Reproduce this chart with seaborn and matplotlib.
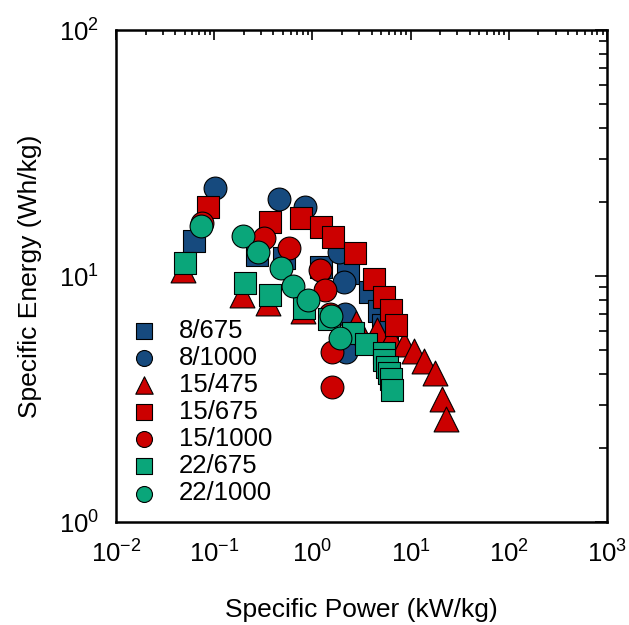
import matplotlib
matplotlib.use("Agg")
import matplotlib.pyplot as plt
import seaborn as sns
import pandas as pd
from matplotlib.ticker import LogLocator, NullFormatter

sns.set_theme(style="white")
plt.rcParams['font.family'] = ['Liberation Sans', 'DejaVu Sans']
plt.rcParams['mathtext.default'] = 'regular'
plt.rcParams['axes.unicode_minus'] = False
for k in ['text.color', 'axes.labelcolor', 'xtick.color', 'ytick.color', 'axes.edgecolor']:
    plt.rcParams[k] = 'black'

# ---- data (Specific Power kW/kg, Specific Energy Wh/kg) ----
p_8_675 = [0.062, 0.273, 0.514, 1.22, 2.30, 3.86, 4.77, 5.23, 5.75]
e_8_675 = [13.9, 12.2, 11.8, 10.9, 10.3, 8.6, 7.2, 6.3, 5.27]

p_8_1000 = [0.102, 0.457, 0.841, 1.87, 2.10, 2.15, 2.20]
e_8_1000 = [22.8, 20.5, 19.1, 12.5, 9.46, 7.0, 4.9]

p_15_475 = [0.048, 0.19, 0.353, 0.80, 2.78, 4.55, 6.31, 8.57, 10.8, 13.7, 17.7, 20.9, 22.9]
e_15_475 = [10.6, 8.4, 7.76, 7.2, 6.44, 6.03, 5.62, 5.27, 4.95, 4.51, 4.03, 3.16, 2.62]

p_15_675 = [0.086, 0.37, 0.766, 1.22, 1.62, 2.71, 4.24, 5.36, 6.31, 7.10]
e_15_675 = [19.1, 16.6, 17.2, 15.8, 14.4, 12.4, 9.72, 8.19, 7.28, 6.32]

p_15_1000 = [0.075, 0.321, 0.578, 1.19, 1.34, 1.51, 1.58, 1.58]
e_15_1000 = [16.4, 14.3, 13.0, 10.6, 8.77, 6.99, 4.91, 3.54]

p_22_675 = [0.050, 0.206, 0.37, 0.82, 1.48, 2.59, 3.52, 5.36, 5.36, 5.75, 6.02, 6.31, 6.47]
e_22_675 = [11.3, 9.38, 8.38, 7.41, 6.68, 5.84, 5.27, 4.86, 4.56, 4.26, 4.03, 3.81, 3.45]

p_22_1000 = [0.073, 0.196, 0.279, 0.479, 0.634, 0.902, 1.55, 1.91]
e_22_1000 = [16.0, 14.6, 12.5, 10.8, 9.10, 8.02, 6.87, 5.62]

labels = ["8/675", "8/1000", "15/475", "15/675", "15/1000", "22/675", "22/1000"]
powers = [p_8_675, p_8_1000, p_15_475, p_15_675, p_15_1000, p_22_675, p_22_1000]
energies = [e_8_675, e_8_1000, e_15_475, e_15_675, e_15_1000, e_22_675, e_22_1000]

BLUE = "#164a7e"
RED = "#cc0000"
GREEN = "#0aa67a"
colors = [BLUE, BLUE, RED, RED, RED, GREEN, GREEN]
markers = ["s", "o", "^", "s", "o", "s", "o"]
sizes = [250, 270, 320, 250, 270, 250, 270]

fig = plt.figure(figsize=(6.29, 6.25), dpi=100)
ax = fig.add_axes([116/629, 1 - 522/625, 491/629, 492/625])

for lab, px, ey, c, m, s in zip(labels, powers, energies, colors, markers, sizes):
    df = pd.DataFrame({"power": px, "energy": ey})
    sns.scatterplot(data=df, x="power", y="energy", ax=ax, color=c, marker=m,
                    s=s, edgecolor="black", linewidth=0.8, label=lab, zorder=3)

ax.set_xscale("log")
ax.set_yscale("log")
ax.set_xlim(1e-2, 1e3)
ax.set_ylim(1e0, 1e2)

ax.xaxis.set_major_locator(LogLocator(base=10, numticks=10))
ax.xaxis.set_minor_locator(LogLocator(base=10, subs=range(2, 10), numticks=20))
ax.xaxis.set_minor_formatter(NullFormatter())
ax.yaxis.set_major_locator(LogLocator(base=10, numticks=10))
ax.yaxis.set_minor_locator(LogLocator(base=10, subs=range(2, 10), numticks=20))
ax.yaxis.set_minor_formatter(NullFormatter())

for sp in ax.spines.values():
    sp.set_linewidth(1.8)
    sp.set_color("black")

ax.tick_params(axis="both", which="both", direction="in", top=True, right=True,
               color="black", labelsize=18.5, width=1.2)
ax.tick_params(axis="x", which="major", length=7, pad=13)
ax.tick_params(axis="x", which="minor", length=3.5)
ax.tick_params(axis="y", which="major", length=9, pad=12)
ax.tick_params(axis="y", which="minor", length=5.5)

ax.set_xlabel("Specific Power (kW/kg)", fontsize=19, labelpad=22)
ax.set_ylabel("Specific Energy (Wh/kg)", fontsize=19, labelpad=12)

leg = ax.legend(loc="lower left", bbox_to_anchor=(0.0, 0.0), frameon=False,
                fontsize=18.5, markerscale=0.7, handlelength=0.9,
                handletextpad=0.9, labelspacing=0.12, borderpad=0.35,
                borderaxespad=0.3)

fig.savefig("out.png", dpi=100)
